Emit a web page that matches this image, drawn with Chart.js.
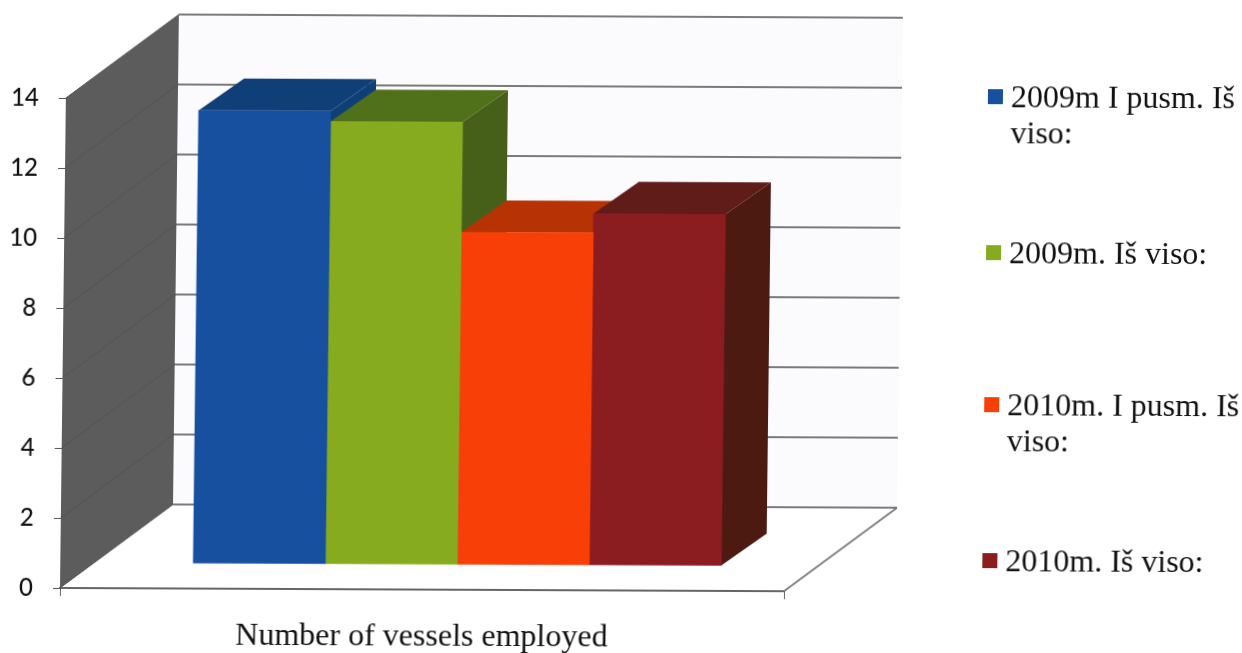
<!DOCTYPE html>
<html>
<head>
<meta charset="utf-8">
<title>Number of vessels employed</title>
<script src="https://cdn.jsdelivr.net/npm/chart.js@4/dist/chart.umd.min.js"></script>
<style>
    html, body { margin: 0; padding: 0; background: #fff; overflow: hidden; }
    /* the sheet is slightly skewed, so the whole canvas leans with it */
    #vessels {
        display: block;
        transform-origin: 60px 588px;
        transform: matrix(1, 0.0045, -0.012, 1, 0, 0);
    }
</style>
</head>
<body>
<canvas id="vessels" width="1242" height="653"></canvas>
<script>
const categories = ['Number of vessels employed'];
const seriesNames = ['2009m I pusm. Iš viso:', '2009m. Iš viso:', '2010m. I pusm. Iš viso:', '2010m. Iš viso:'];
const seriesValues = [12.95, 12.65, 9.5, 10.05];
const legendLines = [['2009m I pusm. Iš', 'viso:'], ['2009m. Iš viso:'], ['2010m. I pusm. Iš', 'viso:'], ['2010m. Iš viso:']];

const frontColors = ['#17509f', '#86ab1f', '#f73f07', '#8b1c1f'];
const topColors = ['#103f78', '#50701a', '#b83303', '#5f1c18'];
const sideColors = ['#103f78', '#46601a', '#8f2a05', '#4d1a12'];

// floor/wall depth, and how far the bars stand in front of the back wall
const WALL_DX = 112, WALL_DY = -84;
const BAR_OFFSET_X = 35, BAR_OFFSET_Y = -25;
const BAR_DX = 45, BAR_DY = -32;

function poly(ctx, pts, fill) {
    ctx.beginPath();
    pts.forEach((p, i) => i ? ctx.lineTo(p[0], p[1]) : ctx.moveTo(p[0], p[1]));
    ctx.closePath();
    ctx.fillStyle = fill;
    ctx.fill();
}

function line(ctx, pts, color, width) {
    ctx.beginPath();
    pts.forEach((p, i) => i ? ctx.lineTo(p[0], p[1]) : ctx.moveTo(p[0], p[1]));
    ctx.strokeStyle = color;
    ctx.lineWidth = width;
    ctx.stroke();
}

// walls, floor and the 3D faces of each bar; the fronts are left to Chart.js
const box3d = {
    id: 'box3d',
    beforeDatasetsDraw(chart) {
        const { ctx, chartArea: a, scales: { y } } = chart;
        const bx = a.left + WALL_DX, by = a.top + WALL_DY;

        poly(ctx, [[bx, by], [a.right + WALL_DX, by], [a.right + WALL_DX, a.bottom + WALL_DY], [bx, a.bottom + WALL_DY]], '#fbfbfd');
        poly(ctx, [[a.left, a.top], [bx, by], [bx, a.bottom + WALL_DY], [a.left, a.bottom]], '#5c5c5c');

        y.ticks.forEach(t => {
            const py = y.getPixelForValue(t.value);
            line(ctx, [[a.left, py], [bx, py + WALL_DY]], '#525252', 1);
            line(ctx, [[bx, py + WALL_DY], [a.right + WALL_DX, py + WALL_DY]], '#4f4f4f', 1.6);
        });

        // floor edges
        line(ctx, [[a.right, a.bottom], [a.right + WALL_DX, a.bottom + WALL_DY]], '#777', 1.6);

        ctx.save();
        ctx.translate(BAR_OFFSET_X, BAR_OFFSET_Y);
        chart.data.datasets.forEach((ds, i) => {
            const bar = chart.getDatasetMeta(i).data[0];
            const l = bar.x - bar.width / 2, r = bar.x + bar.width / 2;
            poly(ctx, [[r, bar.y], [r + BAR_DX, bar.y + BAR_DY], [r + BAR_DX, bar.base + BAR_DY], [r, bar.base]], sideColors[i]);
            poly(ctx, [[l, bar.y], [l + BAR_DX, bar.y + BAR_DY], [r + BAR_DX, bar.y + BAR_DY], [r, bar.y]], topColors[i]);
        });
    },
    afterDatasetsDraw(chart) {
        chart.ctx.restore();
    }
};

// legend rows are unevenly spaced and two of them wrap, so it is drawn by hand
const LEGEND_ROWS = [94, 250, 402, 558];
const sideLegend = {
    id: 'sideLegend',
    afterDraw(chart) {
        const { ctx } = chart;
        ctx.save();
        ctx.font = '32px "Liberation Serif"';
        ctx.textBaseline = 'middle';
        ctx.textAlign = 'left';
        legendLines.forEach((lines, i) => {
            const rowY = LEGEND_ROWS[i];
            ctx.fillStyle = frontColors[i];
            ctx.fillRect(982, rowY - 9, 15, 15);
            ctx.fillStyle = '#111';
            lines.forEach((text, n) => ctx.fillText(text, 1005, rowY + 1 + n * 36));
        });
        ctx.restore();
    }
};

new Chart(document.getElementById('vessels'), {
    type: 'bar',
    data: {
        labels: categories,
        datasets: seriesNames.map((name, i) => ({
            label: name,
            data: [seriesValues[i]],
            backgroundColor: frontColors[i],
            borderWidth: 0,
            barThickness: 132,
            clip: false
        }))
    },
    options: {
        responsive: false,
        animation: false,
        layout: { padding: { top: 98, right: 458, bottom: 0, left: 0 } },
        plugins: { legend: { display: false }, title: { display: false }, tooltip: { enabled: false } },
        scales: {
            x: {
                afterFit: s => { s.height = 65; },
                border: { display: true, color: '#666', width: 2 },
                grid: { drawOnChartArea: false, drawTicks: true, tickLength: 8, color: '#666' },
                ticks: { color: '#111', padding: 20, maxRotation: 0, font: { family: '"Liberation Serif"', size: 32 } }
            },
            y: {
                min: 0,
                max: 14,
                afterFit: s => { s.width = 60; },
                border: { display: true, color: '#555', width: 1 },
                grid: { drawOnChartArea: false, drawTicks: true, tickLength: 7, color: '#555' },
                ticks: { stepSize: 2, color: '#111', padding: 20, font: { family: 'Lato', size: 24, weight: '500' } }
            }
        }
    },
    plugins: [box3d, sideLegend]
});
</script>
</body>
</html>
